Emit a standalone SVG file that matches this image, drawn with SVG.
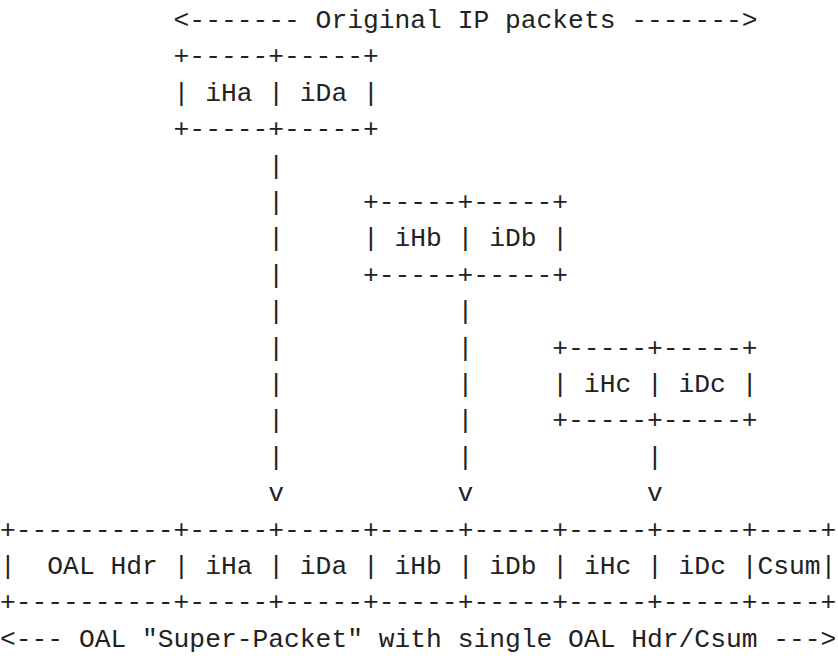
<svg xmlns="http://www.w3.org/2000/svg" width="838" height="660" viewBox="0 0 838 660">
<style>
text{font-family:"Liberation Mono","DejaVu Sans Mono",monospace;font-size:26.3px;fill:#222;white-space:pre}
</style>
<rect width="838" height="660" fill="#fff"/>
<g id="label-top"><text x="173.6" y="28" xml:space="preserve">&lt;------- Original IP packets -------&gt;</text></g>
<g id="packet-a">
<text x="173.6" y="64.4" xml:space="preserve">+-----+-----+</text>
<text x="173.6" y="100.8" xml:space="preserve">| iHa | iDa |</text>
<text x="173.6" y="137.2" xml:space="preserve">+-----+-----+</text>
</g>
<g id="packet-b">
<text x="362.9" y="210" xml:space="preserve">+-----+-----+</text>
<text x="362.9" y="246.4" xml:space="preserve">| iHb | iDb |</text>
<text x="362.9" y="282.8" xml:space="preserve">+-----+-----+</text>
</g>
<g id="packet-c">
<text x="552.3" y="355.6" xml:space="preserve">+-----+-----+</text>
<text x="552.3" y="392" xml:space="preserve">| iHc | iDc |</text>
<text x="552.3" y="428.4" xml:space="preserve">+-----+-----+</text>
</g>
<g id="connectors">
<text x="268.3" y="173.6">|</text>
<text x="268.3" y="210">|</text>
<text x="268.3" y="246.4">|</text>
<text x="268.3" y="282.8">|</text>
<text x="268.3" y="319.2">|</text>
<text x="268.3" y="355.6">|</text>
<text x="268.3" y="392">|</text>
<text x="268.3" y="428.4">|</text>
<text x="268.3" y="464.8">|</text>
<text x="268.3" y="501.2">v</text>
<text x="457.6" y="319.2">|</text>
<text x="457.6" y="355.6">|</text>
<text x="457.6" y="392">|</text>
<text x="457.6" y="428.4">|</text>
<text x="457.6" y="464.8">|</text>
<text x="457.6" y="501.2">v</text>
<text x="647" y="464.8">|</text>
<text x="647" y="501.2">v</text>
</g>
<g id="super-packet">
<text x="0" y="537.6" xml:space="preserve">+----------+-----+-----+-----+-----+-----+-----+----+</text>
<text x="0" y="574" xml:space="preserve">|  OAL Hdr | iHa | iDa | iHb | iDb | iHc | iDc |Csum|</text>
<text x="0" y="610.4" xml:space="preserve">+----------+-----+-----+-----+-----+-----+-----+----+</text>
</g>
<g id="label-bottom"><text x="0" y="646.8" xml:space="preserve">&lt;--- OAL "Super-Packet" with single OAL Hdr/Csum ---&gt;</text></g>
</svg>
